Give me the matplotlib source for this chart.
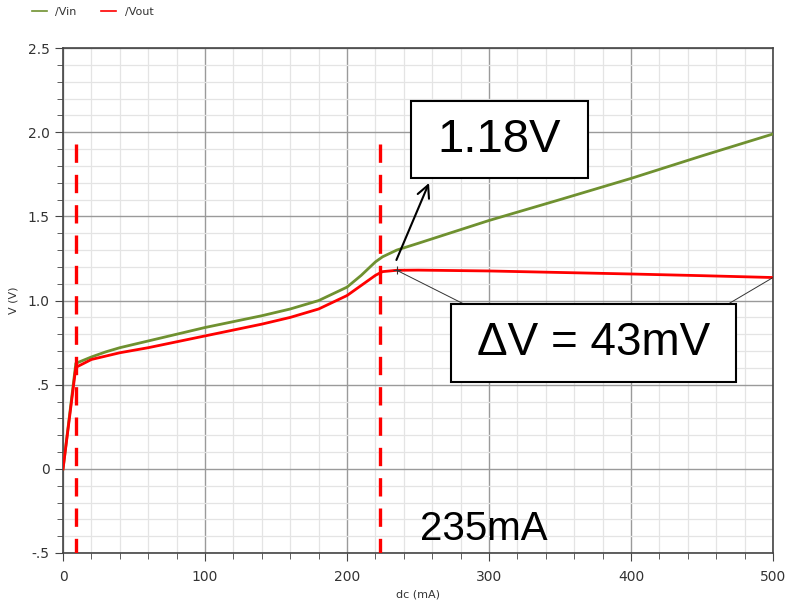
import numpy as np
import matplotlib.pyplot as plt
from matplotlib.patches import Rectangle

# DC sweep of load current vs. input / output voltage
i_in = [0, 9, 20, 30, 40, 60, 80, 100, 120, 140, 160, 180, 200, 210, 220, 225, 235, 250, 300, 350, 400, 450, 500]
v_in = [0, 0.627, 0.665, 0.695, 0.72, 0.76, 0.80, 0.84, 0.875, 0.91, 0.95, 1.0, 1.08, 1.15, 1.23, 1.26, 1.30, 1.34, 1.476, 1.60, 1.726, 1.86, 1.99]

i_out = [0, 9, 20, 30, 40, 60, 80, 100, 120, 140, 160, 180, 200, 210, 220, 225, 235, 250, 300, 350, 400, 450, 500]
v_out = [0, 0.603, 0.65, 0.67, 0.69, 0.72, 0.755, 0.79, 0.825, 0.86, 0.90, 0.95, 1.03, 1.09, 1.15, 1.172, 1.18, 1.181, 1.176, 1.167, 1.158, 1.148, 1.137]

i_marks = [9, 223]           # dashed markers (mA)
v_peak = 1.18                # Vout at 235 mA
v_end = 1.137                # Vout at 500 mA
dv_mv = round((v_peak - v_end) * 1000)

yticks = [-0.5, 0, 0.5, 1.0, 1.5, 2.0, 2.5]
ylabels = ['-.5', '0', '.5', '1.0', '1.5', '2.0', '2.5']
xticks = [0, 100, 200, 300, 400, 500]

green = '#6f9130'
red = '#ff0000'

fig = plt.figure(figsize=(7.88, 6.02), dpi=100)
ax = fig.add_axes([0.080, 0.0814, 0.901, 0.8386])

ax.set_xlim(0, 500)
ax.set_ylim(-0.5, 2.5)
ax.set_xticks(xticks)
ax.set_xticks(np.arange(0, 501, 20), minor=True)
ax.set_yticks(yticks)
ax.set_yticklabels(ylabels)
ax.set_yticks(np.arange(-0.5, 2.51, 0.1), minor=True)
ax.grid(which='minor', color='#e4e4e4', lw=0.9)
ax.grid(which='major', color='#9a9a9a', lw=1.0)
ax.set_axisbelow(True)
for s in ax.spines.values():
    s.set_color('#444444')
    s.set_linewidth(1.2)
ax.tick_params(which='both', colors='#444444', labelcolor='#333333', labelsize=10, direction='out')
ax.tick_params(which='major', length=6)
ax.tick_params(which='minor', length=4)
ax.tick_params(axis='x', pad=6)

ax.set_xlabel('dc (mA)', fontsize=8, color='#333333', labelpad=4)
ax.set_ylabel('V (V)', fontsize=8, color='#333333', labelpad=7)

ax.plot(i_in, v_in, color=green, lw=2.0, label='/Vin', zorder=3)
ax.plot(i_out, v_out, color=red, lw=2.0, label='/Vout', zorder=4)

for xm in i_marks:
    ax.plot([xm, xm], [1.93, -0.5], color=red, lw=2.4, dashes=(5.5, 3.6), zorder=5)

# cursor at the Vout peak
ax.plot([235], [v_peak], marker='+', color='#333333', ms=6, mew=0.8, zorder=6)

# label boxes
ax.add_patch(Rectangle((245, 1.726), 124.6, 0.459, fc='white', ec='black', lw=1.5, zorder=7))
ax.text(307.3, 1.955, f'{v_peak:.2f}V', fontsize=34, family='Liberation Sans',
        ha='center', va='center', zorder=8)
ax.annotate('', xy=(258.5, 1.714), xytext=(234, 1.226),
            arrowprops=dict(arrowstyle='->', color='black', lw=1.5, mutation_scale=22), zorder=8)

ax.plot([235, 281], [v_peak, 0.985], color='#333333', lw=0.7, zorder=6)
ax.plot([500, 469.5], [v_end, 0.985], color='#333333', lw=0.7, zorder=6)
ax.add_patch(Rectangle((273.2, 0.518), 200.7, 0.464, fc='white', ec='black', lw=1.5, zorder=7))
ax.text(373.5, 0.75, f'\u0394V = {dv_mv}mV', fontsize=33, family='Liberation Sans',
        ha='center', va='center', zorder=8)

ax.text(296, -0.42, '235mA', fontsize=29, family='Liberation Sans', ha='center',
        va='baseline', zorder=8)

fig.legend(loc='upper left', bbox_to_anchor=(0.028, 1.005), ncol=2, frameon=False,
           fontsize=8, handlelength=1.3, handletextpad=0.8, columnspacing=2.2,
           labelcolor='#333333')
for line in fig.legends[0].get_lines():
    line.set_linewidth(1.2)

fig.savefig('out.png', dpi=100)
